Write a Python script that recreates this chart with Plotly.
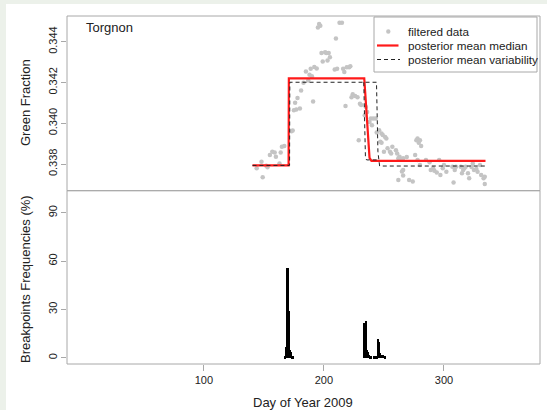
import plotly.graph_objects as go

# Filtered green-fraction observations (day of year, value)
obs_day = [144, 149, 148, 152, 153, 155, 157, 159, 160, 163, 164, 165, 167,
           173, 174, 175, 176, 177, 178, 180, 181, 183, 185, 187, 188, 189,
           190, 191, 192, 194, 195, 196, 197, 198, 199, 201, 202, 203, 204,
           205, 209, 210, 211, 213, 215, 216, 217, 218, 219, 221, 222, 223,
           224, 226, 228, 229, 230, 231, 234, 235, 236, 238, 239, 240, 241,
           243, 244, 246, 247, 248, 248, 249, 250, 251, 252, 253, 255, 256,
           257, 260, 261, 262, 262, 263, 264, 265, 266, 266, 266, 269, 271,
           274, 276, 277, 278, 278, 279, 280, 280, 281, 285, 288, 289, 291,
           292, 294, 296, 297, 299, 300, 302, 307, 308, 309, 310, 314, 315,
           316, 317, 318, 320, 321, 323, 324, 325, 327, 328, 330, 331, 333,
           334, 334]
obs_val = [0.33779, 0.33735, 0.33811, 0.33792, 0.33784, 0.33844, 0.33860,
           0.33857, 0.33836, 0.33803, 0.33857, 0.33884, 0.33888, 0.33961,
           0.33964, 0.34064, 0.34101, 0.34067, 0.34124, 0.34072, 0.34161,
           0.34198, 0.34254, 0.34210, 0.34238, 0.34267, 0.34231, 0.34107,
           0.34276, 0.34268, 0.34470, 0.34487, 0.34478, 0.34345, 0.34303,
           0.34348, 0.34345, 0.34308, 0.34345, 0.34324, 0.34264, 0.34416,
           0.34267, 0.34493, 0.34493, 0.34267, 0.34251, 0.34085, 0.34275,
           0.34275, 0.34280, 0.34128, 0.34142, 0.34134, 0.34128, 0.33917,
           0.34096, 0.34090, 0.34039, 0.34080, 0.34055, 0.34006, 0.34023,
           0.33990, 0.34023, 0.34023, 0.33955, 0.33966, 0.33909, 0.33950,
           0.33904, 0.33942, 0.33860, 0.33933, 0.33925, 0.33877, 0.33860,
           0.33852, 0.33884, 0.33868, 0.33852, 0.33828, 0.33722, 0.33836,
           0.33823, 0.33763, 0.33743, 0.33828, 0.33771, 0.33834, 0.33722,
           0.33714, 0.33844, 0.33917, 0.33925, 0.33820, 0.33904, 0.33917,
           0.33795, 0.33888, 0.33820, 0.33808, 0.33771, 0.33779, 0.33767,
           0.33758, 0.33820, 0.33746, 0.33779, 0.33795, 0.33762, 0.33787,
           0.33709, 0.33771, 0.33787, 0.33787, 0.33755, 0.33771, 0.33779,
           0.33787, 0.33755, 0.33730, 0.33785, 0.33803, 0.33771, 0.33776,
           0.33762, 0.33795, 0.33746, 0.33730, 0.33702, 0.33738]

# Posterior mean of the median (piecewise level with breakpoints)
median_day = [140.5, 170.6, 170.8, 233.6, 234.4, 238.0, 239.6, 334.6]
median_val = [0.33793, 0.33793, 0.34220, 0.34220, 0.34150, 0.33830, 0.33815, 0.33815]

# Posterior mean of the variability segmentation (two dashed paths)
var_day_a = [140.5, 171.4, 171.6, 243.8, 245.0, 246.4, 334.6]
var_val_a = [0.33793, 0.33793, 0.34201, 0.34201, 0.33860, 0.33790, 0.33790]
var_day_b = [233.2, 234.6, 235.6, 245.5]
var_val_b = [0.34201, 0.33830, 0.33820, 0.33820]

# Breakpoint frequencies (%)
bp_day = [168, 169, 170, 171, 172, 173, 174,
          234, 235, 236, 237, 238, 239,
          242, 243, 244, 245, 246, 247, 248, 249, 251]
bp_freq = [1, 7, 56, 29, 5, 4, 1,
           22, 23, 5, 4, 2, 1,
           1, 1, 1, 12, 10, 3, 2, 2, 1]

station = "Torgnon"
legend_labels = ["filtered data", "posterior mean median", "posterior mean variability"]
x_ticks = [100, 200, 300]
y_top_ticks = [0.338, 0.340, 0.342, 0.344]
y_bot_ticks = [0, 30, 60, 90]

FONT = "Liberation Sans, Arial, Helvetica, sans-serif"
TXT = "#222222"
FRAME = "#a8a8a8"
PT_COL = "#c4c4c4"
MED_COL = "#ff1a1a"
VAR_COL = "#222222"
W, H = 547, 410
ML, MR, MT, MB = 67, 7, 16, 46
PW, PH = W - ML - MR, H - MT - MB
split = 173.3 / PH


def px(x):
    """Horizontal pixel position -> paper fraction."""
    return (x - ML) / PW


def py(y):
    """Vertical pixel position (from top) -> paper fraction."""
    return 1 - (y - MT) / PH


fig = go.Figure()

fig.add_trace(go.Scatter(
    x=obs_day, y=obs_val, mode="markers", name=legend_labels[0],
    marker=dict(color=PT_COL, size=4.5, line=dict(width=0)),
    xaxis="x2", yaxis="y2", showlegend=False))
fig.add_trace(go.Scatter(
    x=median_day, y=median_val, mode="lines", name=legend_labels[1],
    line=dict(color=MED_COL, width=2.2), xaxis="x2", yaxis="y2",
    showlegend=False))
fig.add_trace(go.Scatter(
    x=var_day_a, y=var_val_a, mode="lines", name=legend_labels[2],
    line=dict(color=VAR_COL, width=1, dash="4px,3px"), xaxis="x2", yaxis="y2",
    showlegend=False))
fig.add_trace(go.Scatter(
    x=var_day_b, y=var_val_b, mode="lines", showlegend=False,
    line=dict(color=VAR_COL, width=1, dash="4px,3px"), xaxis="x2", yaxis="y2"))

fig.add_trace(go.Bar(
    x=bp_day, y=bp_freq, width=1.5, showlegend=False,
    marker=dict(color="black", line=dict(width=0)), xaxis="x", yaxis="y"))

xr = [-14, 380]
axis_common = dict(showgrid=False, zeroline=False, showline=False,
                   ticks="outside", tickcolor=FRAME, tickwidth=1,
                   tickfont=dict(family=FONT, size=11, color=TXT))

# Legend box drawn as a boxed key in the top-right corner of the upper panel
leg_rows = [31.5, 45.5, 59.5]
leg_shapes = [
    dict(type="rect", xref="paper", yref="paper", x0=px(374), x1=px(537),
         y0=py(72), y1=py(17), fillcolor="white", line=dict(color=FRAME, width=1)),
    dict(type="circle", xref="paper", yref="paper",
         x0=px(388.3 - 2.2), x1=px(388.3 + 2.2),
         y0=py(leg_rows[0] + 2.2), y1=py(leg_rows[0] - 2.2),
         fillcolor=PT_COL, line=dict(width=0)),
    dict(type="line", xref="paper", yref="paper", x0=px(377), x1=px(398.5),
         y0=py(leg_rows[1]), y1=py(leg_rows[1]), line=dict(color=MED_COL, width=2.2)),
    dict(type="line", xref="paper", yref="paper", x0=px(377), x1=px(400),
         y0=py(leg_rows[2]), y1=py(leg_rows[2]),
         line=dict(color=VAR_COL, width=1, dash="4px,3px")),
]
leg_text = [dict(text=lab, xref="paper", yref="paper", x=px(406), y=py(r),
                 xanchor="left", yanchor="middle", showarrow=False,
                 font=dict(family=FONT, size=11.7, color=TXT))
            for lab, r in zip(legend_labels, leg_rows)]

fig.update_layout(
    width=W, height=H, autosize=False,
    margin=dict(l=ML, r=MR, t=MT, b=MB, pad=0),
    paper_bgcolor="#ecf1ea", plot_bgcolor="white",
    font=dict(family=FONT, color=TXT),
    bargap=0, showlegend=False,
    xaxis=dict(range=xr, domain=[0, 1], anchor="y", tickvals=x_ticks,
               ticklen=6, **axis_common),
    yaxis=dict(range=[-3.9, 103.7], domain=[0, split], anchor="x",
               tickvals=y_bot_ticks, tickangle=-90, ticklen=5, **axis_common),
    xaxis2=dict(range=xr, domain=[0, 1], anchor="y2", matches="x",
                showticklabels=False, showgrid=False, zeroline=False,
                showline=False, ticks=""),
    yaxis2=dict(range=[0.33669, 0.34526], domain=[split, 1], anchor="x2",
                tickvals=y_top_ticks, tickformat=".3f", tickangle=-90,
                ticklen=5, **axis_common),
    shapes=[
        dict(type="rect", xref="paper", yref="paper",
             x0=px(6), x1=px(W + 5), y0=py(H + 5), y1=py(4),
             fillcolor="white", line=dict(width=0), layer="below"),
        dict(type="rect", xref="paper", yref="paper", x0=0, x1=1, y0=0, y1=split,
             line=dict(color=FRAME, width=1)),
        dict(type="rect", xref="paper", yref="paper", x0=0, x1=1, y0=split, y1=1,
             line=dict(color=FRAME, width=1)),
    ] + leg_shapes,
    annotations=[
        dict(text=station, xref="paper", yref="paper", x=px(84),
             y=py(27), xanchor="left", yanchor="middle",
             showarrow=False, font=dict(family=FONT, size=13, color=TXT)),
        dict(text="Green Fraction", xref="paper", yref="paper",
             x=px(25), y=py(103), textangle=-90,
             xanchor="center", yanchor="middle", showarrow=False,
             font=dict(family=FONT, size=13, color=TXT)),
        dict(text="Breakpoints Frequencies (%)", xref="paper", yref="paper",
             x=px(25), y=py(279), textangle=-90,
             xanchor="center", yanchor="middle", showarrow=False,
             font=dict(family=FONT, size=13, color=TXT)),
        dict(text="Day of Year 2009", xref="paper", yref="paper",
             x=px(303), y=py(402), xanchor="center",
             yanchor="middle", showarrow=False,
             font=dict(family=FONT, size=13, color=TXT)),
    ] + leg_text,
)

fig.write_html("out.html")
